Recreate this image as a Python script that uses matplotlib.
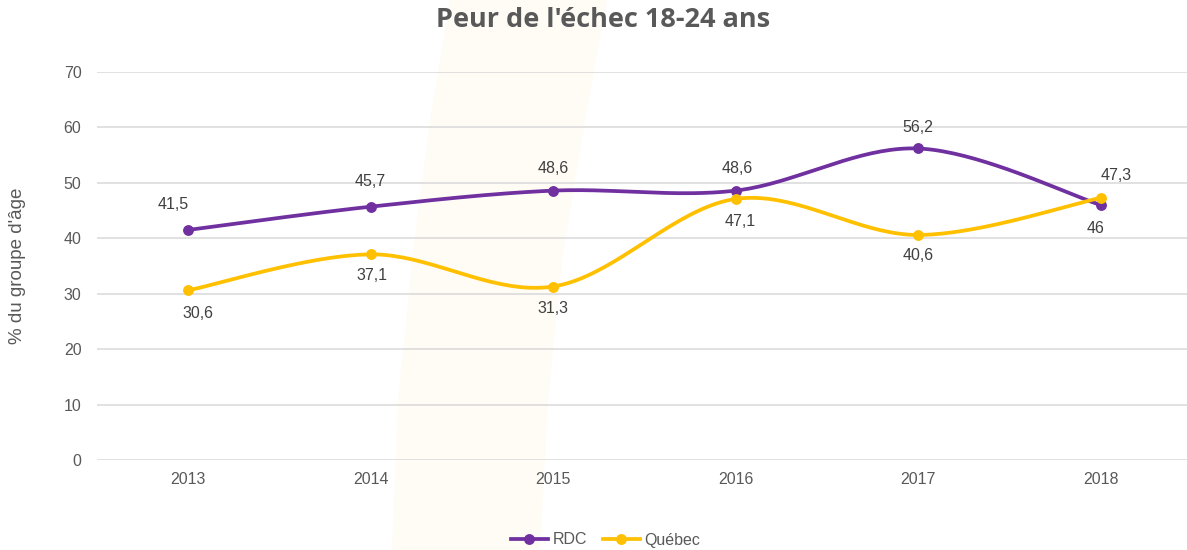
import numpy as np
import matplotlib
matplotlib.use("Agg")
import matplotlib.pyplot as plt
from matplotlib.patches import Polygon
from matplotlib.lines import Line2D

years = ["2013", "2014", "2015", "2016", "2017", "2018"]
rdc = [41.5, 45.7, 48.6, 48.6, 56.2, 46.0]
quebec = [30.6, 37.1, 31.3, 47.1, 40.6, 47.3]
rdc_labels = ["41,5", "45,7", "48,6", "48,6", "56,2", "46"]
quebec_labels = ["30,6", "37,1", "31,3", "47,1", "40,6", "47,3"]
yticks = [0, 10, 20, 30, 40, 50, 60, 70]

# label offsets in points (dx, dy)
rdc_off = [(-11, 18), (0, 18), (0, 16), (1, 16), (0, 15), (-4, -17)]
que_off = [(7, -17), (1, -15), (0, -16), (3, -16), (0, -15), (11, 16)]

PURPLE = "#7030a0"
YELLOW = "#ffc000"
TXT = "#595959"

plt.rcParams['font.family'] = ['Liberation Sans', 'DejaVu Sans']

fig = plt.figure(figsize=(11.87, 5.5), dpi=100)

# faint background watermark band (figure coords)
W, H = 1187, 550
band = [(450, 0), (430, 120), (412, 260), (398, 400), (392, 550),
        (540, 550), (548, 400), (562, 260), (585, 120), (607, 0)]
fig.patches.append(Polygon([(x / W, 1 - y / H) for x, y in band], closed=True,
                           transform=fig.transFigure, facecolor="#fffbf5",
                           edgecolor="none", zorder=-10))

ax = fig.add_axes([96.7 / W, 90 / H, (1192 - 96.7) / W, (460 - 72) / H])
ax.set_facecolor("none")
ax.set_zorder(1)


def catmull(y, n=40):
    y = np.asarray(y, float)
    x = np.arange(len(y), dtype=float)
    pts = np.column_stack([x, y])
    P = np.vstack([pts[0], pts, pts[-1]])
    out = []
    for i in range(1, len(P) - 2):
        p0, p1, p2, p3 = P[i - 1], P[i], P[i + 1], P[i + 2]
        c1 = p1 + (p2 - p0) / 6.0
        c2 = p2 - (p3 - p1) / 6.0
        t = np.linspace(0, 1, n)[:, None]
        seg = ((1 - t) ** 3) * p1 + 3 * ((1 - t) ** 2) * t * c1 + 3 * (1 - t) * t ** 2 * c2 + t ** 3 * p2
        out.append(seg if i == 1 else seg[1:])
    return np.vstack(out)


for vals, col in [(rdc, PURPLE), (quebec, YELLOW)]:
    c = catmull(vals)
    ax.plot(c[:, 0], c[:, 1], color=col, lw=2.7, solid_capstyle="round", zorder=3)
    ax.plot(range(len(vals)), vals, "o", color=col, ms=6.8, zorder=4)

for i, (v, lab) in enumerate(zip(rdc, rdc_labels)):
    ax.annotate(lab, (i, v), xytext=rdc_off[i], textcoords="offset points",
                ha="center", va="center", fontsize=11.5, color="#404040", zorder=5)
for i, (v, lab) in enumerate(zip(quebec, quebec_labels)):
    ax.annotate(lab, (i, v), xytext=que_off[i], textcoords="offset points",
                ha="center", va="center", fontsize=11.5, color="#404040", zorder=5)

ax.set_xlim(-0.5, len(years) - 0.5)
ax.set_ylim(0, 70)
ax.set_yticks(yticks)
ax.set_yticklabels([str(t) for t in yticks])
ax.set_xticks(range(len(years)))
ax.set_xticklabels(years)
ax.grid(axis="y", color="#d9d9d9", lw=1.1)
ax.set_axisbelow(True)
for s in ax.spines.values():
    s.set_visible(False)
ax.tick_params(axis="both", length=0, labelsize=11.5, labelcolor=TXT)
ax.tick_params(axis="x", pad=9)
ax.tick_params(axis="y", pad=11)
ax.set_ylabel("% du groupe d'âge", fontsize=13.5, color=TXT)
ax.yaxis.set_label_coords(-(96.7 - 26) / (1192 - 96.7), 0.5)

fig.text(0.5 + 10 / W, 1 - 20 / H, "Peur de l'échec 18-24 ans", ha="center", va="center",
         fontsize=19.5, fontweight="bold", color=TXT, family=["Open Sans", "DejaVu Sans"])

handles = [Line2D([], [], color=PURPLE, lw=2.7, marker="o", ms=6.8),
           Line2D([], [], color=YELLOW, lw=2.7, marker="o", ms=6.8)]
fig.legend(handles, ["RDC", "Québec"], loc="center",
           bbox_to_anchor=(0.5 + 12 / W, 1 - 540 / H),
           ncol=2, frameon=False, fontsize=11.5, labelcolor=TXT, handlelength=2.3,
           handletextpad=0.3, columnspacing=1.0)

fig.savefig("out.png", dpi=100)
